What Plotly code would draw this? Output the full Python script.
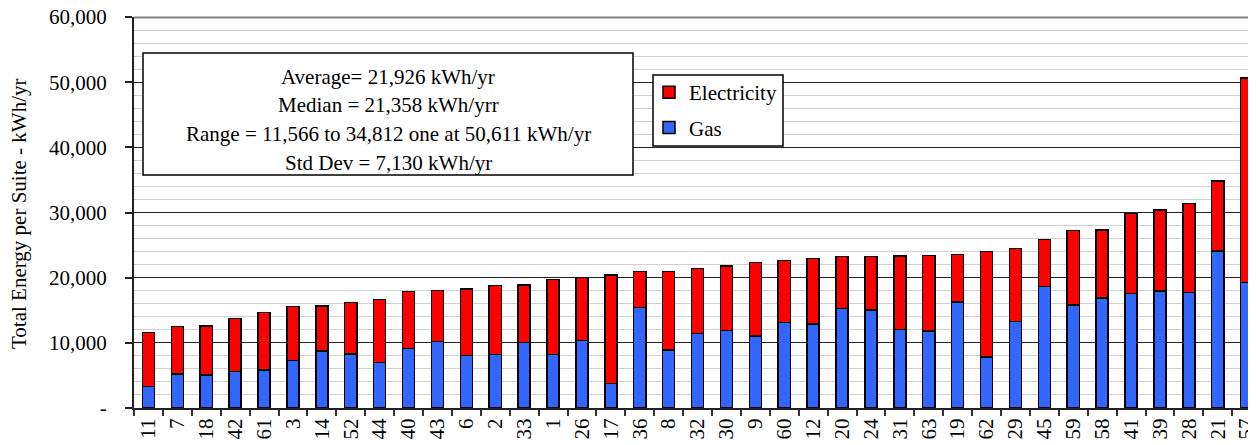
import plotly.graph_objects as go

suites = ["11", "7", "18", "42", "61", "3", "14", "52", "44", "40", "43", "6", "2", "33", "1",
          "26", "17", "36", "8", "32", "30", "9", "60", "12", "20", "24", "31", "63", "19", "62",
          "29", "45", "59", "58", "41", "39", "28", "21", "57"]
gas = [3270, 5220, 5060, 5580, 5830, 7260, 8750, 8290, 7010, 9160, 10180, 8030, 8180, 10020, 8180,
       10380, 3780, 15400, 8900, 11410, 11870, 11050, 13100, 12890, 15240, 15040, 12070, 11820, 16270, 7830,
       13250, 18620, 15810, 16880, 17600, 17950, 17700, 24090, 19230]
electricity = [8296, 7260, 7520, 8180, 8800, 8290, 6900, 7870, 9670, 8690, 7820, 10230, 10590, 8850, 11560,
               9670, 16630, 5520, 12020, 10020, 9920, 11250, 9560, 10030, 7980, 8180, 11250, 11610, 7310, 16160,
               11200, 7260, 11400, 10430, 12270, 12430, 13650, 10722, 31381]
ytick_vals = [0, 10000, 20000, 30000, 40000, 50000, 60000]
ytick_text = ["-", "10,000", "20,000", "30,000", "40,000", "50,000", "60,000"]
stats_lines = ["Average= 21,926 kWh/yr", "Median = 21,358 kWh/yrr",
               "Range = 11,566 to 34,812 one at 50,611 kWh/yr", "Std Dev = 7,130 kWh/yr"]

# layout geometry in window pixels (page body has an 8px margin)
OFF = 8
WIN_W, WIN_H = 1256, 445
L, T, B, R = 134, 17, 408, 1256
PW, PH = R - L, B - T
FONT = "Liberation Serif"
FS = 21
CAT_PX = 28.9

def px(x):
    return (x - L) / PW

def py(y):
    return (B - y) / PH

fig = go.Figure()
fig.add_trace(go.Bar(x=suites, y=gas, name="Gas", width=0.42, legendgroup="g", legendrank=2,
                     marker=dict(color="#3366FF", line=dict(color="black", width=1.5))))
fig.add_trace(go.Bar(x=suites, y=electricity, name="Electricity", width=0.42, legendgroup="e",
                     legendrank=1,
                     marker=dict(color="#FF0000", line=dict(color="black", width=1.5))))

fig_w = R - OFF
fig_h = WIN_H - OFF
fig.update_layout(
    barmode="stack",
    width=fig_w, height=fig_h,
    margin=dict(l=L - OFF, r=0, t=T - OFF, b=fig_h - (B - OFF), autoexpand=False),
    paper_bgcolor="white", plot_bgcolor="white",
    font=dict(family=FONT, size=FS, color="black"),
    showlegend=True,
    legend=dict(x=px(649), y=py(72), xanchor="left", yanchor="top",
                traceorder="grouped", borderwidth=0,
                bgcolor="rgba(0,0,0,0)", font=dict(size=FS, family=FONT), itemwidth=30,
                tracegroupgap=5),
    xaxis=dict(type="category", range=[-0.5, -0.5 + PW / CAT_PX],
               tickangle=-90, ticks="outside", ticklen=6, tickcolor="#333333", tickwidth=1.5,
               tickson="boundaries", showgrid=False, showline=True, linecolor="#222222",
               linewidth=2, automargin=False, ticklabeloverflow="allow",
               tickfont=dict(size=FS, family=FONT)),
    yaxis=dict(range=[0, 60000], tickvals=ytick_vals, ticktext=ytick_text,
               ticks="outside", ticklen=7, tickcolor="#222222", tickwidth=1.5, showline=True,
               linecolor="#222222", linewidth=2, showgrid=True, gridcolor="#222222",
               gridwidth=1, automargin=False, zeroline=False, ticklabelstandoff=14,
               ticklabeloverflow="allow",
               minor=dict(dtick=2000, showgrid=True, gridcolor="#CFCFCF", gridwidth=1),
               tickfont=dict(size=FS, family=FONT)),
)

# statistics box
fig.add_shape(type="rect", xref="paper", yref="paper", x0=px(143), x1=px(633),
              y0=py(175), y1=py(53), line=dict(color="black", width=1.5), fillcolor="white",
              layer="above")
# legend frame
fig.add_shape(type="rect", xref="paper", yref="paper", x0=px(653), x1=px(783),
              y0=py(146), y1=py(75), line=dict(color="black", width=1.5), fillcolor="white",
              layer="above")
# top frame line of the plot area
fig.add_shape(type="line", xref="paper", yref="paper", x0=0, x1=1, y0=py(17.5), y1=py(17.5),
              line=dict(color="#808080", width=2), layer="above")
for ycen, line in zip([77, 105.5, 134, 162.5], stats_lines):
    fig.add_annotation(xref="paper", yref="paper", x=px(388), y=py(ycen), text=line,
                       showarrow=False, xanchor="center", yanchor="middle",
                       font=dict(size=FS, family=FONT, color="black"))
# y axis title
fig.add_annotation(xref="paper", yref="paper", x=px(19), y=py(214),
                   text="Total Energy per Suite - kWh/yr", textangle=-90, showarrow=False,
                   xanchor="center", yanchor="middle", font=dict(size=FS, family=FONT))

fig.write_html("out.html")
